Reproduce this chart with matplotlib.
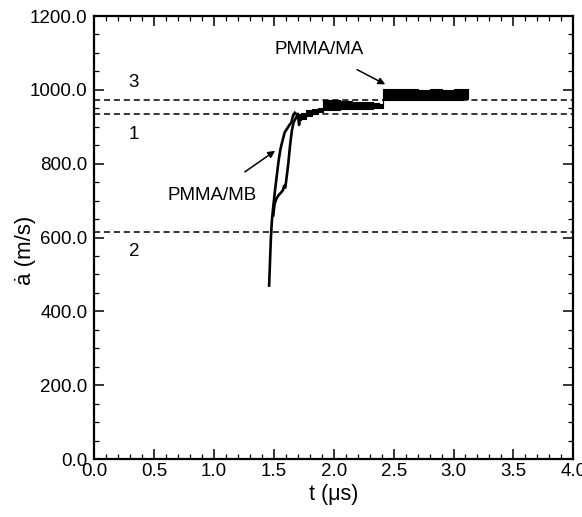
import matplotlib
matplotlib.use("Agg")
from matplotlib import pyplot as plt
from matplotlib.ticker import MultipleLocator, FormatStrFormatter

plt.rcParams['font.family'] = ['Liberation Sans', 'DejaVu Sans']

# reference levels (dashed)
ref_levels = [973, 935, 615]
ref_names = ["3", "1", "2"]
ref_label_y = [1020, 880, 562]

# PMMA/MB: rising branch (left)
t_mb = [1.460, 1.468, 1.475, 1.482, 1.490, 1.500, 1.510, 1.525, 1.540, 1.555,
        1.570, 1.590, 1.610, 1.630, 1.646, 1.660, 1.675]
a_mb = [470, 540, 600, 640, 670, 700, 730, 770, 810, 840,
        860, 885, 895, 905, 912, 930, 938]

# PMMA/MA: rising branch (right)
t_ma = [1.495, 1.505, 1.520, 1.540, 1.560, 1.575, 1.585, 1.595, 1.605,
        1.620, 1.635, 1.650, 1.665, 1.685, 1.700, 1.710, 1.720]
a_ma = [660, 690, 705, 715, 722, 728, 740, 735, 760,
        800, 850, 890, 912, 925, 935, 905, 930]

# stepped plateau bands (scatter envelope of both records)
band_t = [1.70, 1.73, 1.77, 1.82, 1.87, 1.91, 1.98, 2.05, 2.15, 2.25,
          2.33, 2.38, 2.41, 2.50, 2.60, 2.70, 2.80, 2.90, 3.00, 3.08, 3.12]
band_lo = [918, 922, 928, 935, 940, 945, 946, 947, 947, 948,
           950, 952, 973, 972, 973, 972, 973, 972, 973, 974, 974]
band_hi = [935, 938, 945, 948, 950, 972, 972, 970, 968, 967,
           965, 962, 1003, 1003, 1002, 1001, 1002, 1001, 1003, 1002, 1002]

fig, ax = plt.subplots(figsize=(5.82, 5.17), dpi=100)
fig.subplots_adjust(left=0.162, right=0.985, top=0.969, bottom=0.112)

for lv in ref_levels:
    ax.axhline(lv, color='black', ls=(0, (4, 2.5)), lw=1.1)

ax.fill_between(band_t, band_lo, band_hi, step='post', color='black', lw=0.8)
ax.plot(t_mb, a_mb, color='black', lw=1.9)
ax.plot(t_ma, a_ma, color='black', lw=1.9)

for name, y in zip(ref_names, ref_label_y):
    ax.text(0.33, y, name, fontsize=13.5, ha='center', va='center')

ax.annotate("PMMA/MA", xy=(2.43, 1015), xytext=(1.88, 1108),
            fontsize=13.5, ha='center', va='center',
            arrowprops=dict(arrowstyle='-|>', color='black', lw=1.1,
                            shrinkA=13, shrinkB=0, mutation_scale=10))
ax.annotate("PMMA/MB", xy=(1.51, 835), xytext=(0.98, 715),
            fontsize=13.5, ha='center', va='center',
            arrowprops=dict(arrowstyle='-|>', color='black', lw=1.1,
                            shrinkA=15, shrinkB=0, mutation_scale=10))

ax.set_xlim(0, 4.0)
ax.set_ylim(0, 1200)
ax.xaxis.set_major_locator(MultipleLocator(0.5))
ax.xaxis.set_minor_locator(MultipleLocator(0.1))
ax.yaxis.set_major_locator(MultipleLocator(200))
ax.yaxis.set_minor_locator(MultipleLocator(50))
ax.xaxis.set_major_formatter(FormatStrFormatter('%.1f'))
ax.yaxis.set_major_formatter(FormatStrFormatter('%.1f'))
ax.tick_params(which='both', direction='in', top=True, right=True,
               labelsize=13.5)
ax.tick_params(axis='x', pad=3)
ax.tick_params(axis='y', pad=5)
ax.tick_params(which='major', length=7, width=1.1)
ax.tick_params(which='minor', length=3.5, width=0.9)
for s in ax.spines.values():
    s.set_linewidth(1.6)

ax.set_xlabel("t (μs)", fontsize=15.5, labelpad=3)
ax.set_ylabel("ȧ (m/s)", fontsize=16)
ax.yaxis.set_label_coords(-0.122, 0.47)

plt.savefig('out.png', dpi=100)
